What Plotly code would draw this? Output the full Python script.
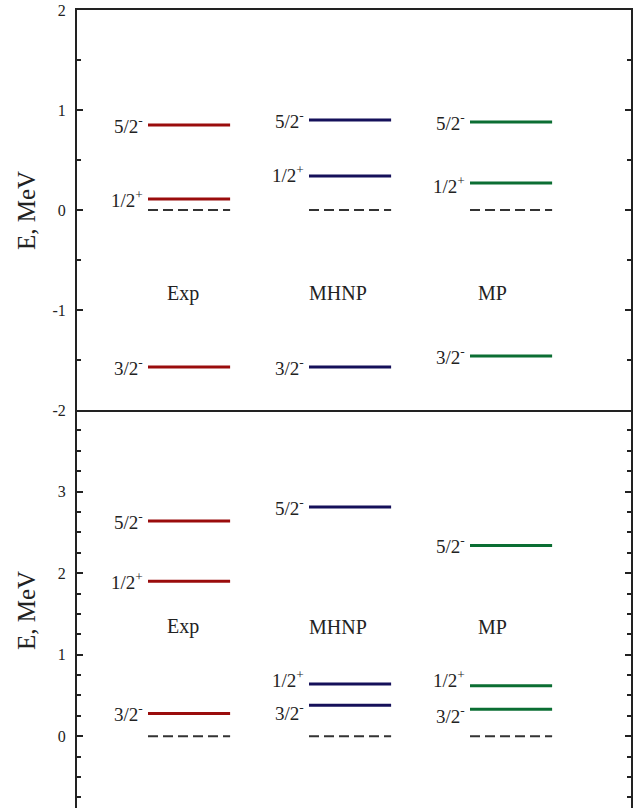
import plotly.graph_objects as go

# ---------------- data ----------------
models = ["Exp", "MHNP", "MP"]
states = ["5/2<sup>-</sup>", "1/2<sup>+</sup>", "3/2<sup>-</sup>"]

top_exp = [0.85, 0.11, -1.57]
top_mhnp = [0.90, 0.34, -1.57]
top_mp = [0.88, 0.27, -1.46]

bot_exp = [2.64, 1.90, 0.28]
bot_mhnp = [2.81, 0.64, 0.38]
bot_mp = [2.34, 0.62, 0.33]

top_ticks = [-2, -1, 0, 1, 2]
top_ticktext = ["-2", "-1", "0", "1", "2"]
bot_ticks = [0, 1, 2, 3]
bot_ticktext = ["0", "1", "2", "3"]

# ---------------- style ----------------
colors = ["#9a0c0c", "#15105a", "#0b6e33"]
centers = [1, 2, 3]
hw = 0.255
FONT = "Liberation Serif"
AX = "#222222"

# label vertical shifts (pixels) for crowded labels
top_shift = {"Exp": [0, 0, 0], "MHNP": [0, 2, 0], "MP": [0, -2, 0]}
bot_shift = {"Exp": [0, 0, 0], "MHNP": [0, 5, -7], "MP": [0, 7, -6]}
name_xshift = [-6, -12, -19]
name_y = {"top": -0.83, "bot": 1.34}

fig = go.Figure()

panels = [
    ("top", [top_exp, top_mhnp, top_mp], "x", "y", top_shift),
    ("bot", [bot_exp, bot_mhnp, bot_mp], "x2", "y2", bot_shift),
]

annotations = []
for pname, series, xa, ya, shifts in panels:
    for i, (m, vals) in enumerate(zip(models, series)):
        c = centers[i]
        xs, ys = [], []
        for v in vals:
            xs += [c - hw, c + hw, None]
            ys += [v, v, None]
        fig.add_trace(go.Scatter(x=xs, y=ys, mode="lines", xaxis=xa, yaxis=ya,
                                 line=dict(color=colors[i], width=3),
                                 showlegend=False, hoverinfo="skip"))
        # zero reference
        fig.add_trace(go.Scatter(x=[c - hw, c + hw], y=[0, 0], mode="lines",
                                 xaxis=xa, yaxis=ya,
                                 line=dict(color="#333333", width=2, dash="10px,5px"),
                                 showlegend=False, hoverinfo="skip"))
        for j, v in enumerate(vals):
            annotations.append(dict(
                x=c - hw, y=v, xref=xa, yref=ya, text=states[j],
                showarrow=False, xanchor="right", yanchor="middle",
                xshift=-3, yshift=shifts[m][j],
                font=dict(family=FONT, size=19, color="#222222")))
        annotations.append(dict(
            x=c, y=name_y[pname], xref=xa, yref=ya, text=m,
            showarrow=False, xanchor="center", yanchor="middle",
            xshift=name_xshift[i],
            font=dict(family=FONT, size=20, color="#222222")))

for yp in [0.739, 0.244]:
    annotations.append(dict(
        x=-0.090, y=yp, xref="paper", yref="paper", text="E, MeV",
        textangle=-90, showarrow=False, xanchor="center", yanchor="middle",
        font=dict(family=FONT, size=25, color="#222222")))

split = 398 / 808
top_end = 798 / 808
xr = [0.304, 3.745]

fig.update_layout(
    template="none",
    width=634, height=808,
    margin=dict(l=77, r=3, t=0, b=0, pad=0, autoexpand=False),
    plot_bgcolor="white", paper_bgcolor="white",
    annotations=annotations,
    xaxis=dict(domain=[0, 1], range=xr, anchor="y", showticklabels=False,
               ticks="", showgrid=False, zeroline=False, automargin=False,
               showline=True, mirror=True, linewidth=2, linecolor=AX),
    yaxis=dict(domain=[split, top_end], range=[-2, 2], anchor="x",
               tickmode="array", tickvals=top_ticks, ticktext=top_ticktext,
               ticks="inside", ticklen=6, tickwidth=2, tickcolor=AX,
               minor=dict(dtick=0.5, tick0=0, ticks="inside", ticklen=4,
                          tickwidth=2, tickcolor=AX, showgrid=False),
               showgrid=False, zeroline=False, automargin=False,
               showline=True, mirror="ticks", linewidth=2, linecolor=AX,
               ticklabelstandoff=6,
               tickfont=dict(family=FONT, size=16, color="#222222")),
    xaxis2=dict(domain=[0, 1], range=xr, anchor="y2", showticklabels=False,
                ticks="", showgrid=False, zeroline=False, showline=False,
                automargin=False),
    yaxis2=dict(domain=[0, split], range=[-0.88, 4.0], anchor="x2",
                tickmode="array", tickvals=bot_ticks, ticktext=bot_ticktext,
                ticks="inside", ticklen=6, tickwidth=2, tickcolor=AX,
                minor=dict(dtick=0.25, tick0=0, ticks="inside", ticklen=4,
                           tickwidth=2, tickcolor=AX, showgrid=False),
                showgrid=False, zeroline=False, automargin=False,
                showline=True, mirror="ticks", linewidth=2, linecolor=AX,
                ticklabelstandoff=6,
                tickfont=dict(family=FONT, size=16, color="#222222")),
)

fig.write_html("out.html")
